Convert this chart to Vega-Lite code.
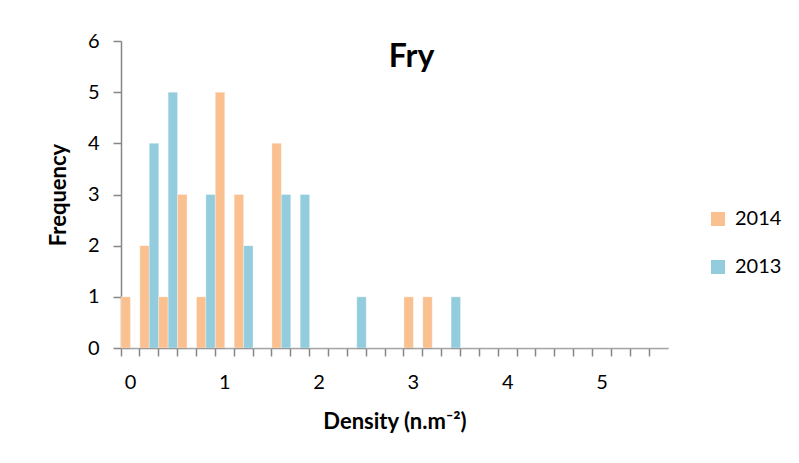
{
  "$schema": "https://vega.github.io/schema/vega-lite/v6.json",
  "width": 547,
  "height": 307,
  "autosize": {"type": "none"},
  "padding": {"left": 121, "top": 41, "right": 131, "bottom": 115},
  "background": "white",
  "config": {
    "font": "Lato",
    "view": {"stroke": null}
  },
  "title": {
    "text": "Fry",
    "font": "Lato",
    "fontSize": 32,
    "fontWeight": "bold",
    "color": "#000000",
    "anchor": "middle",
    "dx": 17,
    "offset": -43
  },
  "data": {
    "values": [
      {"d": 0, "year": "2014", "n": 1}, {"d": 0, "year": "2013", "n": 0},
      {"d": 0.2, "year": "2014", "n": 2}, {"d": 0.2, "year": "2013", "n": 4},
      {"d": 0.4, "year": "2014", "n": 1}, {"d": 0.4, "year": "2013", "n": 5},
      {"d": 0.6, "year": "2014", "n": 3}, {"d": 0.6, "year": "2013", "n": 0},
      {"d": 0.8, "year": "2014", "n": 1}, {"d": 0.8, "year": "2013", "n": 3},
      {"d": 1.0, "year": "2014", "n": 5}, {"d": 1.0, "year": "2013", "n": 0},
      {"d": 1.2, "year": "2014", "n": 3}, {"d": 1.2, "year": "2013", "n": 2},
      {"d": 1.4, "year": "2014", "n": 0}, {"d": 1.4, "year": "2013", "n": 0},
      {"d": 1.6, "year": "2014", "n": 4}, {"d": 1.6, "year": "2013", "n": 3},
      {"d": 1.8, "year": "2014", "n": 0}, {"d": 1.8, "year": "2013", "n": 3},
      {"d": 2.0, "year": "2014", "n": 0}, {"d": 2.0, "year": "2013", "n": 0},
      {"d": 2.2, "year": "2014", "n": 0}, {"d": 2.2, "year": "2013", "n": 0},
      {"d": 2.4, "year": "2014", "n": 0}, {"d": 2.4, "year": "2013", "n": 1},
      {"d": 2.6, "year": "2014", "n": 0}, {"d": 2.6, "year": "2013", "n": 0},
      {"d": 2.8, "year": "2014", "n": 0}, {"d": 2.8, "year": "2013", "n": 0},
      {"d": 3.0, "year": "2014", "n": 1}, {"d": 3.0, "year": "2013", "n": 0},
      {"d": 3.2, "year": "2014", "n": 1}, {"d": 3.2, "year": "2013", "n": 0},
      {"d": 3.4, "year": "2014", "n": 0}, {"d": 3.4, "year": "2013", "n": 1},
      {"d": 3.6, "year": "2014", "n": 0}, {"d": 3.6, "year": "2013", "n": 0},
      {"d": 3.8, "year": "2014", "n": 0}, {"d": 3.8, "year": "2013", "n": 0},
      {"d": 4.0, "year": "2014", "n": 0}, {"d": 4.0, "year": "2013", "n": 0},
      {"d": 4.2, "year": "2014", "n": 0}, {"d": 4.2, "year": "2013", "n": 0},
      {"d": 4.4, "year": "2014", "n": 0}, {"d": 4.4, "year": "2013", "n": 0},
      {"d": 4.6, "year": "2014", "n": 0}, {"d": 4.6, "year": "2013", "n": 0},
      {"d": 4.8, "year": "2014", "n": 0}, {"d": 4.8, "year": "2013", "n": 0},
      {"d": 5.0, "year": "2014", "n": 0}, {"d": 5.0, "year": "2013", "n": 0},
      {"d": 5.2, "year": "2014", "n": 0}, {"d": 5.2, "year": "2013", "n": 0},
      {"d": 5.4, "year": "2014", "n": 0}, {"d": 5.4, "year": "2013", "n": 0},
      {"d": 5.6, "year": "2014", "n": 0}, {"d": 5.6, "year": "2013", "n": 0}
    ]
  },
  "mark": {"type": "bar", "stroke": "white", "strokeWidth": 0.5, "strokeOpacity": 0.6},
  "encoding": {
    "x": {
      "field": "d",
      "type": "ordinal",
      "scale": {"paddingInner": 0, "paddingOuter": 0},
      "axis": {
        "title": "Density (n.m⁻²)",
        "titleFont": "Lato",
        "titleFontSize": 22,
        "titleFontWeight": "bold",
        "titleColor": "#000000",
        "titlePadding": 19,
        "labelAngle": 0,
        "labelFont": "Lato",
        "labelFontSize": 20,
        "labelColor": "#000000",
        "labelPadding": 16,
        "labelExpr": "floor(datum.value) === datum.value ? format(datum.value, 'd') : ''",
        "bandPosition": 0,
        "tickSize": 8,
        "tickColor": "#868686",
        "tickWidth": 1.5,
        "domainColor": "#868686",
        "domainWidth": 1.5,
        "grid": false
      }
    },
    "xOffset": {"field": "year", "type": "nominal", "sort": ["2014", "2013"]},
    "y": {
      "field": "n",
      "type": "quantitative",
      "scale": {"domain": [0, 6], "nice": false},
      "axis": {
        "title": "Frequency",
        "titleFont": "Lato",
        "titleFontSize": 22,
        "titleFontWeight": "bold",
        "titleColor": "#000000",
        "titlePadding": 17,
        "values": [0, 1, 2, 3, 4, 5, 6],
        "labelFont": "Lato",
        "labelFontSize": 20,
        "labelColor": "#000000",
        "labelPadding": 14,
        "tickSize": 8,
        "tickColor": "#868686",
        "tickWidth": 1.5,
        "domainColor": "#868686",
        "domainWidth": 1.5,
        "grid": false
      }
    },
    "color": {
      "field": "year",
      "type": "nominal",
      "scale": {"domain": ["2014", "2013"], "range": ["#FAC090", "#93CDDD"]},
      "legend": {
        "title": null,
        "orient": "none",
        "legendX": 587,
        "legendY": 168,
        "symbolType": "square",
        "symbolSize": 196,
        "symbolStrokeWidth": 0,
        "symbolOpacity": 1,
        "labelFont": "Lato",
        "labelFontSize": 20,
        "labelColor": "#000000",
        "labelOffset": 7,
        "rowPadding": 28
      }
    }
  }
}
